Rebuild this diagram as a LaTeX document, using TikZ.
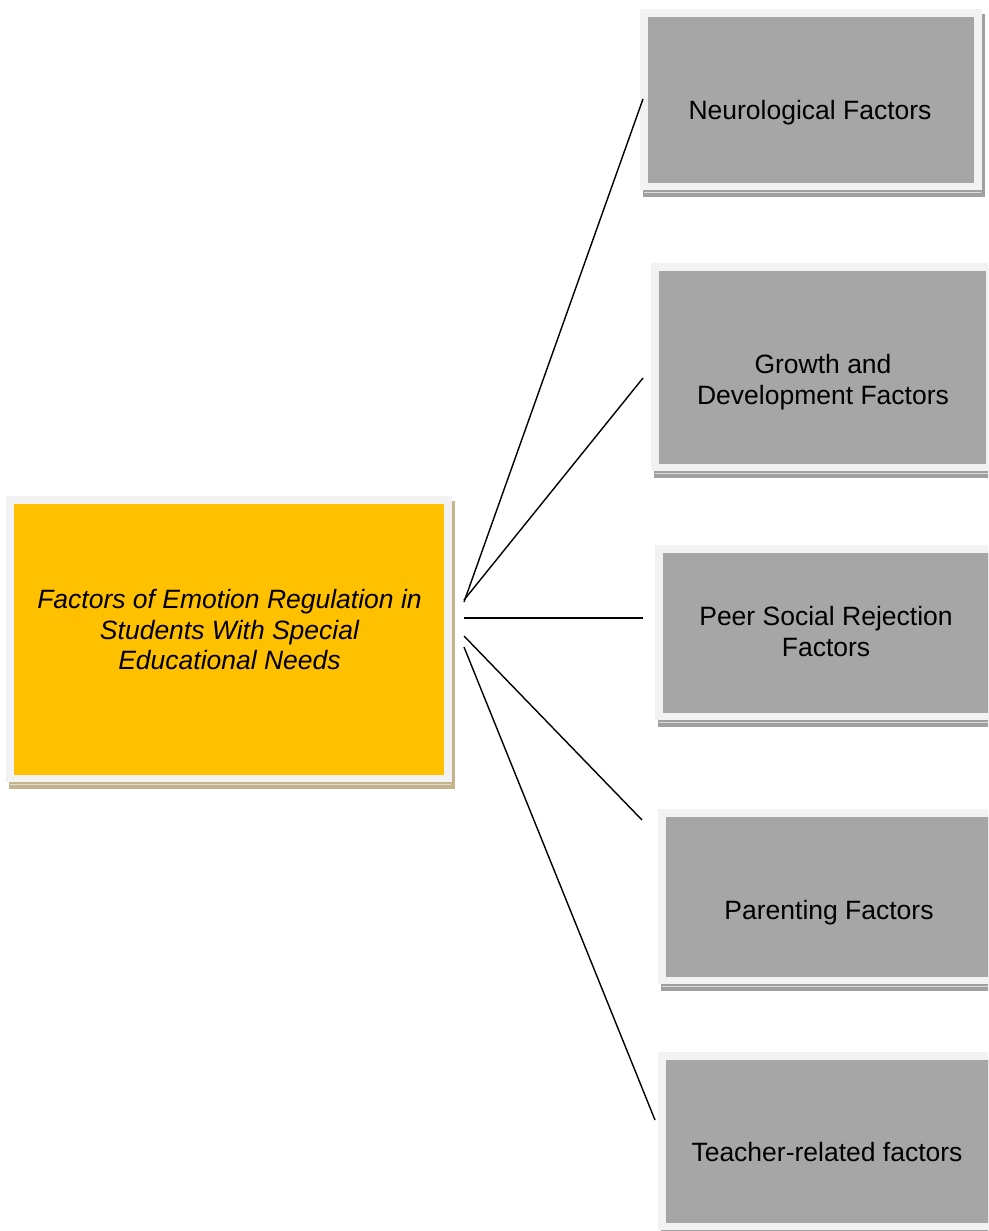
\documentclass[tikz,border=0pt]{standalone}
\usepackage{fontspec}
\setmainfont{Liberation Sans}
\usetikzlibrary{calc,fit}
\definecolor{boxgray}{HTML}{A6A6A6}
\definecolor{framegray}{HTML}{F2F2F2}
\definecolor{shadgray}{HTML}{A0A0A0}
\definecolor{shadtan}{HTML}{C4B48C}
\definecolor{boxyellow}{HTML}{FFC000}
\definecolor{lightline}{HTML}{DCDCDC}
\newcommand{\factorbox}[7]{%
  \fill[#7] (#2-5,-#3+3) rectangle (#4+11,-#5-14);
  \fill[framegray] (#2-8,-#3+8) rectangle (#4+8,-#5-7);
  \draw[lightline, line width=1pt] (#2-4,-#5-9.5) -- (#4+7,-#5-9.5);
  \node[fit={(#2,-#3) (#4,-#5)}, inner sep=0pt, fill=#6, draw=none] (#1) {};
}
\begin{document}
\begin{tikzpicture}[x=1pt,y=1pt,
  txt/.style={font=\fontsize{26.5}{31}\selectfont, align=center, inner sep=0pt, text=black},
  conn/.style={draw=black, line width=1.4pt},
]
\useasboundingbox (0,0) rectangle (988,-1231);
\clip (0,0) rectangle (988,-1231);
\fill[white] (0,0) rectangle (988,-1231);

% central box
\factorbox{main}{14}{504}{444}{775}{boxyellow}{shadtan}
% factor boxes
\factorbox{n1}{648}{17}{974}{183}{boxgray}{shadgray}
\factorbox{n2}{659}{271}{986}{464}{boxgray}{shadgray}
\factorbox{n3}{663}{553}{989}{713}{boxgray}{shadgray}
\factorbox{n4}{666}{817}{992}{977}{boxgray}{shadgray}
\factorbox{n5}{666}{1060}{990}{1223}{boxgray}{shadgray}

% texts
\node[txt, font=\fontsize{26.5}{30.5}\selectfont\itshape] (t0) at (229.5,-630)
  {Factors of Emotion Regulation in\\Students With Special\\Educational Needs};
\node[txt] (t1) at (810,-113) {Neurological Factors};
\node[txt] (t2) at (823,-382) {Growth and\\Development Factors};
\node[txt] (t3) at (826,-632) {Peer Social Rejection\\Factors};
\node[txt] (t4) at (829,-913) {Parenting Factors};
\node[txt] (t5) at (827,-1152) {Teacher-related factors};

% connector end points
\coordinate (s1) at (464,-602);
\coordinate (s2) at (464,-600);
\coordinate (s3) at (464,-618);
\coordinate (s4) at (464,-636);
\coordinate (s5) at (464,-647);
\coordinate (e1) at (643,-99);
\coordinate (e2) at (643,-378);
\coordinate (e3) at (643,-618);
\coordinate (e4) at (642,-820);
\coordinate (e5) at (655,-1120);

\draw[conn] (s1) -- (e1);
\draw[conn] (s2) -- (e2);
\draw[conn] (s3) -- (e3);
\draw[conn] (s4) -- (e4);
\draw[conn] (s5) -- (e5);
\end{tikzpicture}
\end{document}
